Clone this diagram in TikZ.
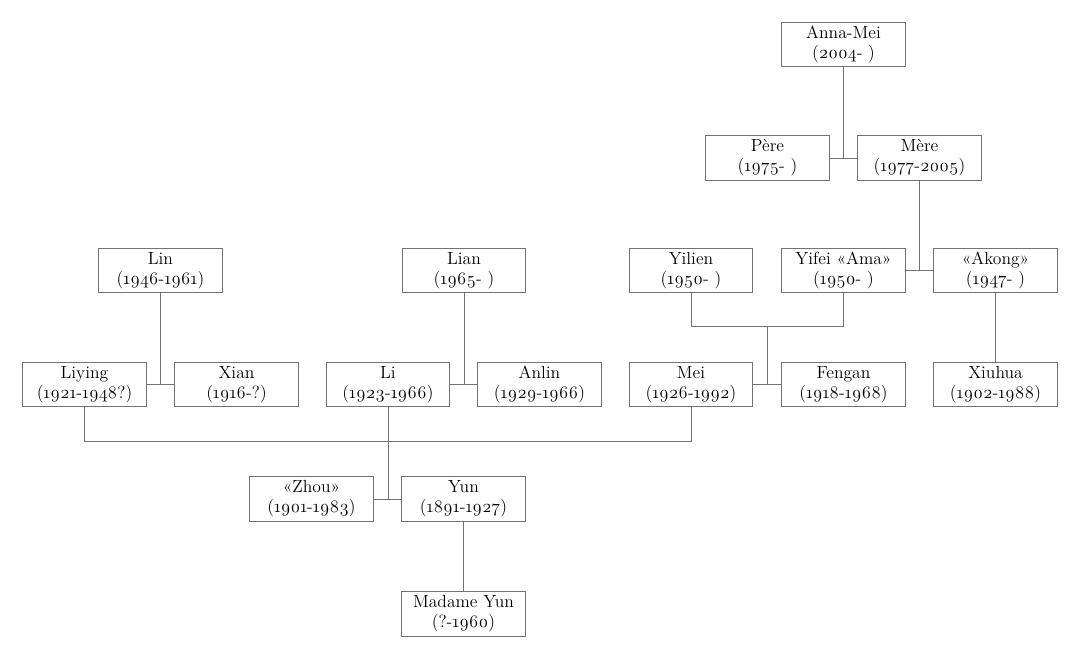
\documentclass[tikz,border=0pt]{standalone}
\usepackage{fontspec}
\setmainfont{Latin Modern Roman}[Numbers=OldStyle]
\tikzset{
  person/.style={draw=black!55, line width=0.6pt, minimum width=3.08cm, minimum height=1.12cm,
    align=center, inner sep=1pt, font=\fontsize{12.5}{14.2}\selectfont},
  link/.style={draw=black!55, line width=0.6pt}
}
\begin{document}
\begin{tikzpicture}[x=0.025cm, y=-0.025cm]
            \useasboundingbox (0,0) rectangle (1080,669);
            % generation of Anna-Mei
            \node [person] (annamei) at (843.5,44.5) {Anna-Mei\\(2004- )};
            \node [person] (pere) at (767.5,158) {Père\\(1975- )};
            \node [person] (mere) at (919.5,158) {Mère\\(1977-2005)};
            % row of Lin, Lian, Yilien
            \node [person] (lin) at (160.5,270.5) {Lin\\(1946-1961)};
            \node [person] (lian) at (464,270.5) {Lian\\(1965- )};
            \node [person] (yilien) at (691,270.5) {Yilien\\(1950- )};
            \node [person] (yifei) at (843.5,270.5) {Yifei «Ama»\\(1950- )};
            \node [person] (akong) at (995.5,270.5) {«Akong»\\(1947- )};
            % row of Liying, Li, Mei
            \node [person] (liying) at (84.5,384.5) {Liying\\(1921-1948?)};
            \node [person] (xian) at (236.5,384.5) {Xian\\(1916-?)};
            \node [person] (li) at (388,384.5) {Li\\(1923-1966)};
            \node [person] (anlin) at (539.5,384.5) {Anlin\\(1929-1966)};
            \node [person] (mei) at (691,384.5) {Mei\\(1926-1992)};
            \node [person] (fengan) at (843.5,384.5) {Fengan\\(1918-1968)};
            \node [person] (xiuhua) at (995.5,384.5) {Xiuhua\\(1902-1988)};
            % row of Yun
            \node [person] (zhou) at (311.5,499) {«Zhou»\\(1901-1983)};
            \node [person] (yun) at (463.5,499) {Yun\\(1891-1927)};
            \node [person] (madame) at (463.5,614) {Madame Yun\\(?-1960)};
            \coordinate (sisters) at (0,441);
            \coordinate (twins) at (0,326);
            % connectors
            \draw [link] (pere.east) to (mere.west);
            \draw [link] (annamei.south) to (annamei.south |- pere.east);
            \draw [link] (yifei.east) to (akong.west);
            \draw [link] (mere.south) to (mere.south |- akong.west);
            \draw [link] (akong.south) to (xiuhua.north);
            \draw [link] (yilien.south) to (yilien.south |- twins) to (yifei.south |- twins) to (yifei.south);
            \draw [link] (mei.east) to (fengan.west);
            \draw [link] (767.25,326) to (767.25,384.5);
            \draw [link] (liying.east) to (xian.west);
            \draw [link] (lin.south) to (lin.south |- xian.west);
            \draw [link] (li.east) to (anlin.west);
            \draw [link] (lian.south) to (lian.south |- anlin.west);
            \draw [link] (liying.south) to (liying.south |- sisters) to (mei.south |- sisters) to (mei.south);
            \draw [link] (zhou.east) to (yun.west);
            \draw [link] (li.south) to (li.south |- yun.west);
            \draw [link] (yun.south) to (madame.north);
\end{tikzpicture}
\end{document}
